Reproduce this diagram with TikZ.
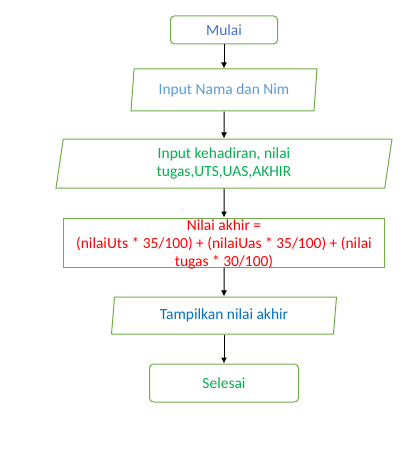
\documentclass[tikz,border=0pt]{standalone}
\usepackage{fontspec}
\setmainfont{Carlito}
\usepackage{tikz}
\usetikzlibrary{positioning}
\usetikzlibrary{shapes.geometric,arrows.meta}

\definecolor{garis}{HTML}{70AD47}
\definecolor{biru}{HTML}{4472C4}
\definecolor{birumuda}{HTML}{5B9BD5}
\definecolor{birutua}{HTML}{0070C0}
\definecolor{hijau}{HTML}{00B050}
\definecolor{merah}{HTML}{FF0000}

\tikzset{
	terminal/.style={rectangle, draw=garis, line width=0.75pt, rounded corners=3pt, inner sep=0pt},
	masukan/.style={trapezium, trapezium left angle=77, trapezium right angle=103,
		trapezium stretches body, draw=garis, line width=0.75pt, inner sep=0pt},
	proses/.style={rectangle, draw=garis, line width=0.75pt, inner sep=0pt},
	alur/.style={-{Latex[length=4.5pt,width=4.5pt]}, line width=0.75pt, black},
}

\begin{document}
\begin{tikzpicture}[x=0.75pt,y=-0.75pt, font=\fontsize{11.6}{13.5}\selectfont]

	% page size of the reference, in pixels
	\useasboundingbox (0,0) rectangle (413,456);

	% start and end
	\node[terminal, minimum width=80.25pt, minimum height=21pt, text=biru] (mulai) at (224,30) {Mulai};
	\node[terminal, minimum width=111.75pt, minimum height=28.5pt, text=hijau] (selesai) at (224,383) {Selesai};

	% inputs and output
	\node[masukan, minimum width=139.5pt, minimum height=31.5pt, text=birumuda] (nama) at (224,90) {Input Nama dan Nim};
	\node[masukan, minimum width=252pt, minimum height=36.75pt, text=hijau, align=center] (nilai) at (224,163.5)
		{Input kehadiran, nilai\\tugas,UTS,UAS,AKHIR};
	\node[masukan, minimum width=168.75pt, minimum height=27.75pt, text=birutua] (tampil) at (224,315.5) {Tampilkan nilai akhir};

	% process box, the text runs over its lower edge
	\node[proses, minimum width=240.75pt, minimum height=36.75pt] (hitung) at (224,242.5) {};
	\node[text=merah, align=center, inner sep=0pt] (rumus) at (224,244)
		{Nilai akhir =\\(nilaiUts * 35/100) + (nilaiUas * 35/100) + (nilai\\tugas * 30/100)};

	% flow
	\draw[alur] (mulai) -- (nama);
	\draw[alur] (nama) -- (nilai);
	\draw[alur] (nilai) -- (hitung);
	\draw[alur] (hitung) -- (tampil);
	\draw[alur] (tampil) -- (selesai);

\end{tikzpicture}
\end{document}
